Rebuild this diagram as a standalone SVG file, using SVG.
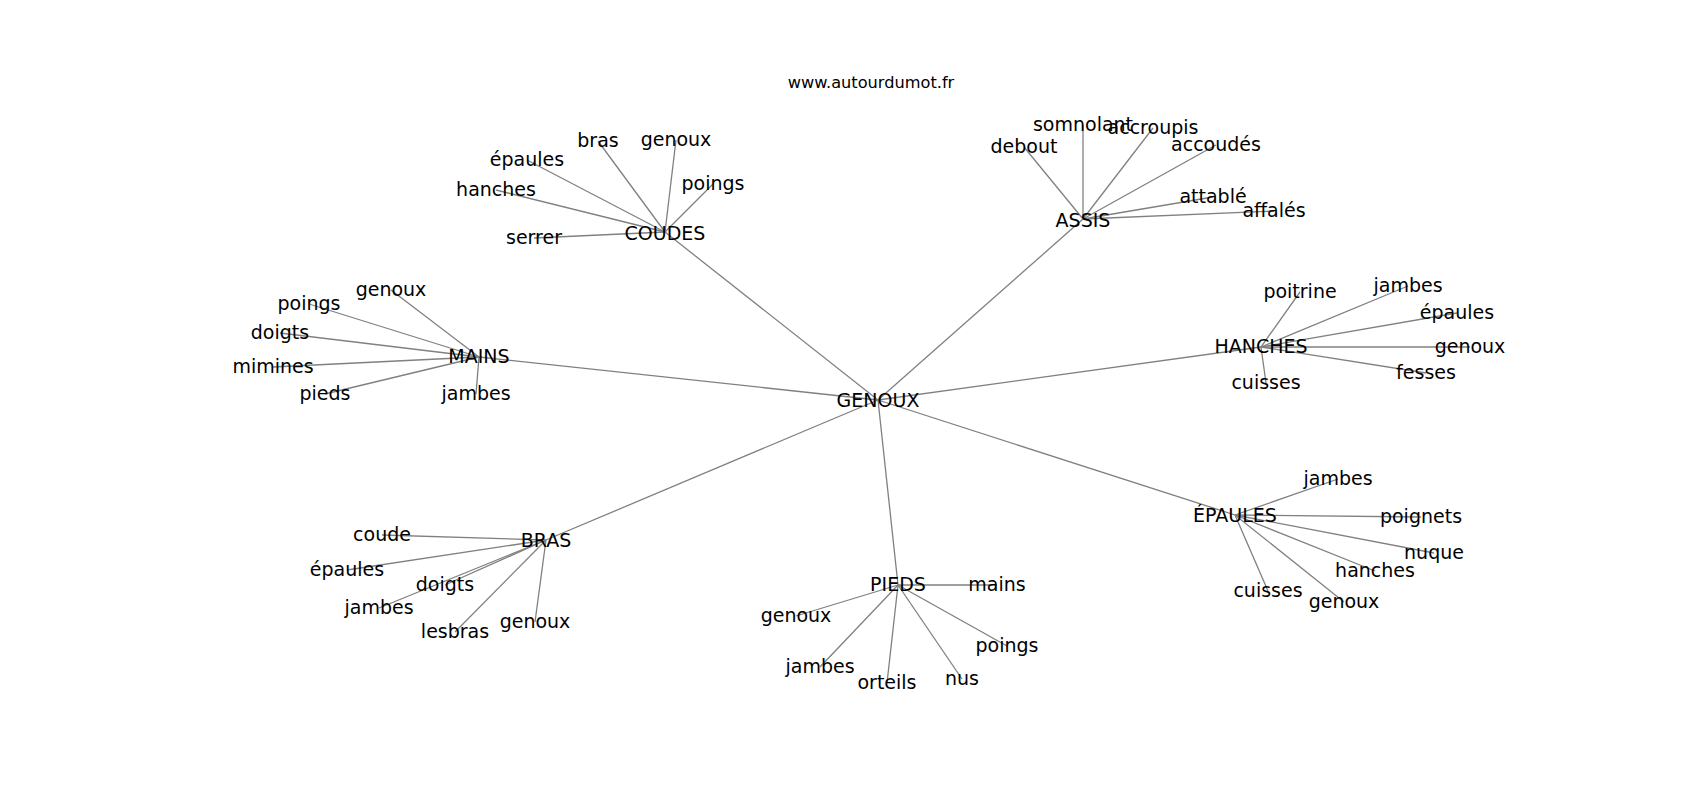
<svg xmlns="http://www.w3.org/2000/svg" width="1700" height="800" viewBox="0 0 1700 800">
<style>
text{font-family:"DejaVu Sans","Liberation Sans",sans-serif;fill:#000;text-anchor:middle}
.n{font-size:19px}
.t{font-size:16.2px}
#edges line{stroke:#808080;stroke-width:1.3}
</style>
<rect width="1700" height="800" fill="#fff"/>
<text class="t" x="871" y="88">www.autourdumot.fr</text>
<g id="edges">
<line x1="878" y1="400" x2="665" y2="232"/>
<line x1="878" y1="400" x2="1083" y2="219"/>
<line x1="878" y1="400" x2="479" y2="357"/>
<line x1="878" y1="400" x2="1261" y2="347"/>
<line x1="878" y1="400" x2="1235" y2="515"/>
<line x1="878" y1="400" x2="898" y2="585"/>
<line x1="878" y1="400" x2="546" y2="540"/>
<line x1="665" y1="232" x2="598" y2="141"/>
<line x1="665" y1="232" x2="676" y2="140"/>
<line x1="665" y1="232" x2="527" y2="160"/>
<line x1="665" y1="232" x2="496" y2="190"/>
<line x1="665" y1="232" x2="713" y2="184"/>
<line x1="665" y1="232" x2="534" y2="238"/>
<line x1="1083" y1="219" x2="1083" y2="125"/>
<line x1="1083" y1="219" x2="1153" y2="128"/>
<line x1="1083" y1="219" x2="1024" y2="147"/>
<line x1="1083" y1="219" x2="1216" y2="145"/>
<line x1="1083" y1="219" x2="1213" y2="197"/>
<line x1="1083" y1="219" x2="1274" y2="211"/>
<line x1="479" y1="357" x2="391" y2="290"/>
<line x1="479" y1="357" x2="309" y2="304"/>
<line x1="479" y1="357" x2="280" y2="333"/>
<line x1="479" y1="357" x2="273" y2="367"/>
<line x1="479" y1="357" x2="325" y2="394"/>
<line x1="479" y1="357" x2="476" y2="394"/>
<line x1="1261" y1="347" x2="1300" y2="292"/>
<line x1="1261" y1="347" x2="1408" y2="286"/>
<line x1="1261" y1="347" x2="1457" y2="313"/>
<line x1="1261" y1="347" x2="1470" y2="347"/>
<line x1="1261" y1="347" x2="1426" y2="373"/>
<line x1="1261" y1="347" x2="1266" y2="383"/>
<line x1="546" y1="540" x2="382" y2="535"/>
<line x1="546" y1="540" x2="347" y2="570"/>
<line x1="546" y1="540" x2="445" y2="585"/>
<line x1="546" y1="540" x2="379" y2="608"/>
<line x1="546" y1="540" x2="455" y2="632"/>
<line x1="546" y1="540" x2="535" y2="622"/>
<line x1="898" y1="585" x2="997" y2="585"/>
<line x1="898" y1="585" x2="796" y2="616"/>
<line x1="898" y1="585" x2="1007" y2="646"/>
<line x1="898" y1="585" x2="820" y2="667"/>
<line x1="898" y1="585" x2="887" y2="683"/>
<line x1="898" y1="585" x2="962" y2="679"/>
<line x1="1235" y1="515" x2="1338" y2="479"/>
<line x1="1235" y1="515" x2="1421" y2="517"/>
<line x1="1235" y1="515" x2="1434" y2="553"/>
<line x1="1235" y1="515" x2="1375" y2="571"/>
<line x1="1235" y1="515" x2="1268" y2="591"/>
<line x1="1235" y1="515" x2="1344" y2="602"/>
</g>
<g id="genoux"><text class="n" x="878" y="407">GENOUX</text></g>
<g id="coudes"><text class="n" x="665" y="240">COUDES</text></g>
<g id="coudes-bras"><text class="n" x="598" y="147">bras</text></g>
<g id="coudes-genoux"><text class="n" x="676" y="146">genoux</text></g>
<g id="coudes-epaules"><text class="n" x="527" y="166">épaules</text></g>
<g id="coudes-hanches"><text class="n" x="496" y="196">hanches</text></g>
<g id="coudes-poings"><text class="n" x="713" y="190">poings</text></g>
<g id="coudes-serrer"><text class="n" x="534" y="244">serrer</text></g>
<g id="assis"><text class="n" x="1083" y="227">ASSIS</text></g>
<g id="assis-somnolant"><text class="n" x="1083" y="131">somnolant</text></g>
<g id="assis-accroupis"><text class="n" x="1153" y="134">accroupis</text></g>
<g id="assis-debout"><text class="n" x="1024" y="153">debout</text></g>
<g id="assis-accoudes"><text class="n" x="1216" y="151">accoudés</text></g>
<g id="assis-attable"><text class="n" x="1213" y="203">attablé</text></g>
<g id="assis-affales"><text class="n" x="1274" y="217">affalés</text></g>
<g id="mains"><text class="n" x="479" y="363">MAINS</text></g>
<g id="mains-genoux"><text class="n" x="391" y="296">genoux</text></g>
<g id="mains-poings"><text class="n" x="309" y="310">poings</text></g>
<g id="mains-doigts"><text class="n" x="280" y="339">doigts</text></g>
<g id="mains-mimines"><text class="n" x="273" y="373">mimines</text></g>
<g id="mains-pieds"><text class="n" x="325" y="400">pieds</text></g>
<g id="mains-jambes"><text class="n" x="476" y="400">jambes</text></g>
<g id="hanches"><text class="n" x="1261" y="353">HANCHES</text></g>
<g id="hanches-poitrine"><text class="n" x="1300" y="298">poitrine</text></g>
<g id="hanches-jambes"><text class="n" x="1408" y="292">jambes</text></g>
<g id="hanches-epaules"><text class="n" x="1457" y="319">épaules</text></g>
<g id="hanches-genoux"><text class="n" x="1470" y="353">genoux</text></g>
<g id="hanches-fesses"><text class="n" x="1426" y="379">fesses</text></g>
<g id="hanches-cuisses"><text class="n" x="1266" y="389">cuisses</text></g>
<g id="bras"><text class="n" x="546" y="547">BRAS</text></g>
<g id="bras-coude"><text class="n" x="382" y="541">coude</text></g>
<g id="bras-epaules"><text class="n" x="347" y="576">épaules</text></g>
<g id="bras-doigts"><text class="n" x="445" y="591">doigts</text></g>
<g id="bras-jambes"><text class="n" x="379" y="614">jambes</text></g>
<g id="bras-lesbras"><text class="n" x="455" y="638">lesbras</text></g>
<g id="bras-genoux"><text class="n" x="535" y="628">genoux</text></g>
<g id="pieds"><text class="n" x="898" y="591">PIEDS</text></g>
<g id="pieds-mains"><text class="n" x="997" y="591">mains</text></g>
<g id="pieds-genoux"><text class="n" x="796" y="622">genoux</text></g>
<g id="pieds-poings"><text class="n" x="1007" y="652">poings</text></g>
<g id="pieds-jambes"><text class="n" x="820" y="673">jambes</text></g>
<g id="pieds-orteils"><text class="n" x="887" y="689">orteils</text></g>
<g id="pieds-nus"><text class="n" x="962" y="685">nus</text></g>
<g id="epaules"><text class="n" x="1235" y="522">ÉPAULES</text></g>
<g id="epaules-jambes"><text class="n" x="1338" y="485">jambes</text></g>
<g id="epaules-poignets"><text class="n" x="1421" y="523">poignets</text></g>
<g id="epaules-nuque"><text class="n" x="1434" y="559">nuque</text></g>
<g id="epaules-hanches"><text class="n" x="1375" y="577">hanches</text></g>
<g id="epaules-cuisses"><text class="n" x="1268" y="597">cuisses</text></g>
<g id="epaules-genoux"><text class="n" x="1344" y="608">genoux</text></g>
</svg>
